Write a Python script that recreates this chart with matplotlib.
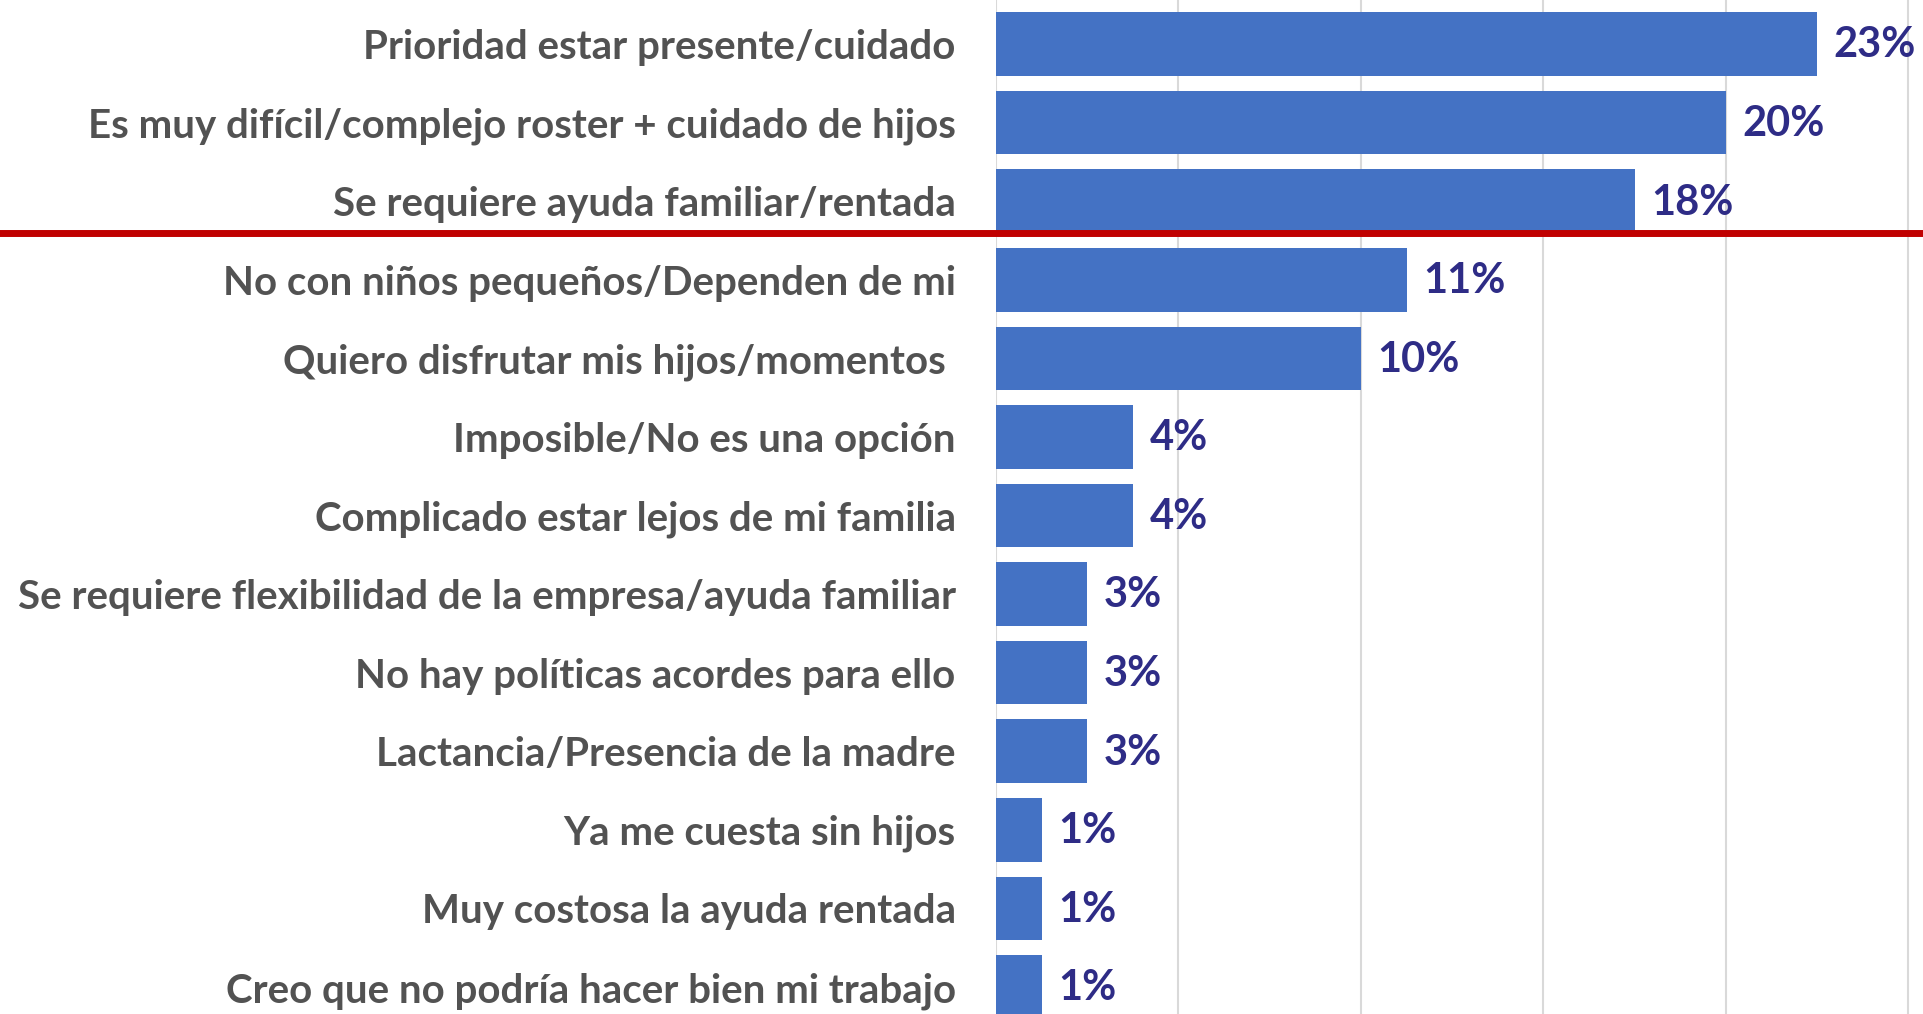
import matplotlib.pyplot as plt

# survey answers, values in percent (n=80, so steps of 1.25)
categories = [
    "Prioridad estar presente/cuidado",
    "Es muy difícil/complejo roster + cuidado de hijos",
    "Se requiere ayuda familiar/rentada",
    "No con niños pequeños/Dependen de mi",
    "Quiero disfrutar mis hijos/momentos ",
    "Imposible/No es una opción",
    "Complicado estar lejos de mi familia",
    "Se requiere flexibilidad de la empresa/ayuda familiar",
    "No hay políticas acordes para ello",
    "Lactancia/Presencia de la madre",
    "Ya me cuesta sin hijos",
    "Muy costosa la ayuda rentada",
    "Creo que no podría hacer bien mi trabajo",
]
values = [22.5, 20.0, 17.5, 11.25, 10.0, 3.75, 3.75, 2.5, 2.5, 2.5, 1.25, 1.25, 1.25]
value_labels = ["23%", "20%", "18%", "11%", "10%", "4%", "4%", "3%", "3%", "3%", "1%", "1%", "1%"]
grid_ticks = [0, 5, 10, 15, 20, 25]
cut_after = 2.4  # red separator under the top three

plt.rcParams['font.family'] = ['Lato', 'DejaVu Sans']

W, H = 1923, 1014
fig = plt.figure(figsize=(W / 100, H / 100), dpi=100)
left = 996 / W
ax = fig.add_axes([left, 0, 1 - left, 1])

ypos = list(range(len(categories)))
ax.barh(ypos, values, height=0.81, color='#4472C4', zorder=2)

for y, v, lab in zip(ypos, values, value_labels):
    ax.annotate(lab, (v, y), xytext=(12, -1), textcoords='offset points',
                va='center', ha='left', fontsize=30, fontweight='bold',
                color='#2E2C86')

ax.set_xlim(0, 25.4)
ax.set_ylim(12 + 27 / 78.6, -44 / 78.6)
ax.set_xticks(grid_ticks)
ax.xaxis.grid(True, color='#D9D9D9', linewidth=1.5, zorder=0)
ax.set_axisbelow(True)
ax.tick_params(axis='x', length=0, labelbottom=False)

ax.set_yticks(ypos)
ax.set_yticklabels(categories, fontsize=29, fontweight='bold', color='#525252')
ax.tick_params(axis='y', length=0, pad=29)

for s in ax.spines.values():
    s.set_visible(False)

ax.axhline(cut_after, xmin=-left / (1 - left), xmax=1, color='#C00000',
           linewidth=5, clip_on=False, zorder=3)

fig.savefig('out.png', dpi=100)
